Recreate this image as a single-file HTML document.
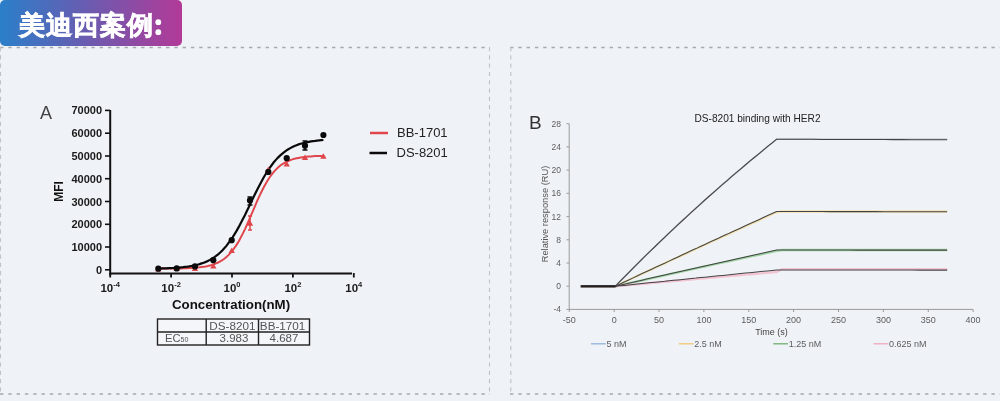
<!DOCTYPE html>
<html><head><meta charset="utf-8"><style>
html,body{margin:0;padding:0;background:#eff3f7;width:1000px;height:401px;overflow:hidden}
svg{display:block;will-change:transform}
</style></head><body>
<svg width="1000" height="401" viewBox="0 0 1000 401">
<path d="M0,47.5 H490 M510,47.5 H1000 M0,394 H490 M510,394 H1000" fill="none" stroke="#a6a9ad" stroke-width="1.3" stroke-dasharray="3.4 4.9"/>
<path d="M0.5,47 V394 M489.5,47 V394 M510.8,47 V394" fill="none" stroke="#c0c3c7" stroke-width="1.1" stroke-dasharray="4.2 4.1"/>
<defs><linearGradient id="g" x1="0" y1="0" x2="1" y2="0"><stop offset="0" stop-color="#2a7fc9"/><stop offset="0.5" stop-color="#6d5aaf"/><stop offset="1" stop-color="#b23a97"/></linearGradient></defs>
<rect x="0" y="0" width="182" height="46" rx="5" fill="url(#g)"/>
<text x="18.5" y="34" font-size="26" font-weight="bold" letter-spacing="1.15" fill="#fff" stroke="#fff" stroke-width="0.7" font-family="Liberation Sans, sans-serif">美迪西案例</text>
<circle cx="158.3" cy="22.2" r="2.9" fill="#fff"/><circle cx="158.3" cy="32.2" r="2.9" fill="#fff"/>
<text x="40" y="119" font-size="18" fill="#444" font-family="Liberation Sans, sans-serif">A</text>
<path d="M110.2,110 V275.5 M110.2,273.6 H352" stroke="#111" stroke-width="2" fill="none"/>
<path d="M105,269.8 H110" stroke="#111" stroke-width="1.6"/>
<text x="102" y="273.8" font-size="11" font-weight="bold" text-anchor="end" fill="#1a1a1a" font-family="Liberation Sans, sans-serif">0</text>
<path d="M105,247.0 H110" stroke="#111" stroke-width="1.6"/>
<text x="102" y="251.0" font-size="11" font-weight="bold" text-anchor="end" fill="#1a1a1a" font-family="Liberation Sans, sans-serif">10000</text>
<path d="M105,224.3 H110" stroke="#111" stroke-width="1.6"/>
<text x="102" y="228.3" font-size="11" font-weight="bold" text-anchor="end" fill="#1a1a1a" font-family="Liberation Sans, sans-serif">20000</text>
<path d="M105,201.5 H110" stroke="#111" stroke-width="1.6"/>
<text x="102" y="205.5" font-size="11" font-weight="bold" text-anchor="end" fill="#1a1a1a" font-family="Liberation Sans, sans-serif">30000</text>
<path d="M105,178.7 H110" stroke="#111" stroke-width="1.6"/>
<text x="102" y="182.7" font-size="11" font-weight="bold" text-anchor="end" fill="#1a1a1a" font-family="Liberation Sans, sans-serif">40000</text>
<path d="M105,156.0 H110" stroke="#111" stroke-width="1.6"/>
<text x="102" y="160.0" font-size="11" font-weight="bold" text-anchor="end" fill="#1a1a1a" font-family="Liberation Sans, sans-serif">50000</text>
<path d="M105,133.2 H110" stroke="#111" stroke-width="1.6"/>
<text x="102" y="137.2" font-size="11" font-weight="bold" text-anchor="end" fill="#1a1a1a" font-family="Liberation Sans, sans-serif">60000</text>
<path d="M105,110.4 H110" stroke="#111" stroke-width="1.6"/>
<text x="102" y="114.4" font-size="11" font-weight="bold" text-anchor="end" fill="#1a1a1a" font-family="Liberation Sans, sans-serif">70000</text>
<path d="M110.2,273 V277.5" stroke="#111" stroke-width="1.8"/>
<text x="110.2" y="291.5" font-size="11.5" font-weight="bold" text-anchor="middle" fill="#1a1a1a" font-family="Liberation Sans, sans-serif">10<tspan dy="-5" font-size="7.5">-4</tspan></text>
<path d="M171.1,273 V277.5" stroke="#111" stroke-width="1.8"/>
<text x="171.1" y="291.5" font-size="11.5" font-weight="bold" text-anchor="middle" fill="#1a1a1a" font-family="Liberation Sans, sans-serif">10<tspan dy="-5" font-size="7.5">-2</tspan></text>
<path d="M232.0,273 V277.5" stroke="#111" stroke-width="1.8"/>
<text x="232.0" y="291.5" font-size="11.5" font-weight="bold" text-anchor="middle" fill="#1a1a1a" font-family="Liberation Sans, sans-serif">10<tspan dy="-5" font-size="7.5">0</tspan></text>
<path d="M292.9,273 V277.5" stroke="#111" stroke-width="1.8"/>
<text x="292.9" y="291.5" font-size="11.5" font-weight="bold" text-anchor="middle" fill="#1a1a1a" font-family="Liberation Sans, sans-serif">10<tspan dy="-5" font-size="7.5">2</tspan></text>
<path d="M353.8,273 V277.5" stroke="#111" stroke-width="1.8"/>
<text x="353.8" y="291.5" font-size="11.5" font-weight="bold" text-anchor="middle" fill="#1a1a1a" font-family="Liberation Sans, sans-serif">10<tspan dy="-5" font-size="7.5">4</tspan></text>
<text x="231" y="308.5" font-size="13.3" font-weight="bold" text-anchor="middle" fill="#111" font-family="Liberation Sans, sans-serif">Concentration(nM)</text>
<text transform="translate(62.5,191.5) rotate(-90)" x="0" y="0" font-size="12" font-weight="bold" text-anchor="middle" fill="#111" font-family="Liberation Sans, sans-serif">MFI</text>
<path d="M158.3,268.6 L160.4,268.6 L162.4,268.6 L164.5,268.6 L166.6,268.6 L168.6,268.6 L170.7,268.5 L172.7,268.5 L174.8,268.5 L176.9,268.5 L178.9,268.4 L181.0,268.4 L183.1,268.3 L185.1,268.2 L187.2,268.2 L189.3,268.1 L191.3,268.0 L193.4,267.8 L195.4,267.7 L197.5,267.5 L199.6,267.3 L201.6,267.0 L203.7,266.7 L205.8,266.4 L207.8,266.0 L209.9,265.5 L211.9,264.9 L214.0,264.2 L216.1,263.4 L218.1,262.5 L220.2,261.4 L222.3,260.2 L224.3,258.7 L226.4,257.0 L228.4,255.1 L230.5,252.9 L232.6,250.5 L234.6,247.7 L236.7,244.6 L238.8,241.2 L240.8,237.4 L242.9,233.4 L245.0,229.1 L247.0,224.6 L249.1,219.9 L251.1,215.1 L253.2,210.3 L255.3,205.4 L257.3,200.7 L259.4,196.1 L261.5,191.8 L263.5,187.7 L265.6,183.9 L267.6,180.4 L269.7,177.2 L271.8,174.4 L273.8,171.8 L275.9,169.6 L278.0,167.6 L280.0,165.8 L282.1,164.3 L284.2,163.0 L286.2,161.9 L288.3,161.0 L290.3,160.1 L292.4,159.4 L294.5,158.8 L296.5,158.3 L298.6,157.9 L300.7,157.5 L302.7,157.2 L304.8,156.9 L306.8,156.7 L308.9,156.5 L311.0,156.4 L313.0,156.2 L315.1,156.1 L317.2,156.0 L319.2,155.9 L321.3,155.9 L323.4,155.8" stroke="#e0474c" stroke-width="2" fill="none"/>
<path d="M158.3,268.5 L160.4,268.5 L162.4,268.4 L164.5,268.4 L166.6,268.3 L168.6,268.2 L170.7,268.1 L172.7,268.0 L174.8,267.9 L176.9,267.7 L178.9,267.6 L181.0,267.4 L183.1,267.2 L185.1,266.9 L187.2,266.7 L189.3,266.4 L191.3,266.0 L193.4,265.6 L195.4,265.2 L197.5,264.7 L199.6,264.1 L201.6,263.4 L203.7,262.7 L205.8,261.9 L207.8,260.9 L209.9,259.9 L211.9,258.7 L214.0,257.4 L216.1,255.9 L218.1,254.3 L220.2,252.5 L222.3,250.5 L224.3,248.3 L226.4,245.9 L228.4,243.2 L230.5,240.4 L232.6,237.3 L234.6,234.1 L236.7,230.6 L238.8,226.9 L240.8,223.0 L242.9,219.0 L245.0,214.9 L247.0,210.7 L249.1,206.4 L251.1,202.1 L253.2,197.8 L255.3,193.5 L257.3,189.4 L259.4,185.4 L261.5,181.5 L263.5,177.8 L265.6,174.3 L267.6,170.9 L269.7,167.8 L271.8,165.0 L273.8,162.3 L275.9,159.9 L278.0,157.6 L280.0,155.6 L282.1,153.8 L284.2,152.1 L286.2,150.6 L288.3,149.3 L290.3,148.1 L292.4,147.0 L294.5,146.0 L296.5,145.2 L298.6,144.4 L300.7,143.8 L302.7,143.2 L304.8,142.7 L306.8,142.2 L308.9,141.8 L311.0,141.4 L313.0,141.1 L315.1,140.9 L317.2,140.6 L319.2,140.4 L321.3,140.2 L323.4,140.0" stroke="#0a0a0a" stroke-width="2.2" fill="none"/>
<path d="M155.1,271.5 L158.3,265.9 L161.5,271.5 Z" fill="#e0474c"/>
<path d="M173.5,271.0 L176.7,265.4 L179.9,271.0 Z" fill="#e0474c"/>
<path d="M191.8,271.0 L195.0,265.4 L198.2,271.0 Z" fill="#e0474c"/>
<path d="M210.1,268.5 L213.3,262.9 L216.5,268.5 Z" fill="#e0474c"/>
<path d="M228.5,253.0 L231.7,247.4 L234.9,253.0 Z" fill="#e0474c"/>
<path d="M246.8,225.7 L250.0,220.1 L253.2,225.7 Z" fill="#e0474c"/>
<path d="M265.1,172.2 L268.3,166.6 L271.5,172.2 Z" fill="#e0474c"/>
<path d="M283.5,166.5 L286.7,160.9 L289.9,166.5 Z" fill="#e0474c"/>
<path d="M301.8,160.1 L305.0,154.5 L308.2,160.1 Z" fill="#e0474c"/>
<path d="M320.2,158.8 L323.4,153.2 L326.6,158.8 Z" fill="#e0474c"/>
<path d="M250,216 V230 M248,216 H252 M248,230 H252" stroke="#e0474c" stroke-width="1.5"/>
<path d="M250,197 V205 M247.5,197 H252.5 M247.5,205 H252.5 M305,141 V150 M302.5,141 H307.5 M302.5,150 H307.5" stroke="#0a0a0a" stroke-width="1.6"/>
<circle cx="158.3" cy="268.7" r="3.1" fill="#0a0a0a"/>
<circle cx="176.7" cy="268.4" r="3.1" fill="#0a0a0a"/>
<circle cx="195.0" cy="266.4" r="3.1" fill="#0a0a0a"/>
<circle cx="213.3" cy="260.2" r="3.1" fill="#0a0a0a"/>
<circle cx="231.7" cy="240.2" r="3.1" fill="#0a0a0a"/>
<circle cx="250.0" cy="200.4" r="3.1" fill="#0a0a0a"/>
<circle cx="268.3" cy="171.9" r="3.1" fill="#0a0a0a"/>
<circle cx="286.7" cy="158.2" r="3.1" fill="#0a0a0a"/>
<circle cx="305.0" cy="145.7" r="3.1" fill="#0a0a0a"/>
<circle cx="323.4" cy="135.0" r="3.1" fill="#0a0a0a"/>
<path d="M370,133 H388" stroke="#e0474c" stroke-width="2.5"/>
<path d="M369.5,153 H387" stroke="#0a0a0a" stroke-width="2.5"/>
<text x="397" y="137" font-size="13" fill="#222" font-family="Liberation Sans, sans-serif">BB-1701</text>
<text x="396.5" y="157" font-size="13" fill="#222" font-family="Liberation Sans, sans-serif">DS-8201</text>
<rect x="157.5" y="319" width="152" height="26" fill="#f4f6f9" stroke="#222" stroke-width="1.4"/>
<path d="M157.5,332 H309.5 M206.2,319 V345 M258.5,319 V345" stroke="#222" stroke-width="1.4"/>
<text x="232.4" y="330" font-size="11.7" fill="#555" text-anchor="middle" font-family="Liberation Sans, sans-serif">DS-8201</text>
<text x="282.6" y="330" font-size="11.7" fill="#555" text-anchor="middle" font-family="Liberation Sans, sans-serif">BB-1701</text>
<text x="234" y="342.2" font-size="11.5" fill="#555" text-anchor="middle" font-family="Liberation Sans, sans-serif">3.983</text>
<text x="284" y="342.2" font-size="11.5" fill="#555" text-anchor="middle" font-family="Liberation Sans, sans-serif">4.687</text>
<text x="165" y="342" font-size="11.2" fill="#555" font-family="Liberation Sans, sans-serif">EC<tspan font-size="7">50</tspan></text>
<text x="529" y="128.5" font-size="19" fill="#333" font-family="Liberation Sans, sans-serif">B</text>
<text x="757.5" y="121.8" font-size="10.15" fill="#222" text-anchor="middle" font-family="Liberation Sans, sans-serif">DS-8201 binding with HER2</text>
<path d="M569.2,123.7 V309.4 H973.1" stroke="#9a9a9a" stroke-width="1" fill="none"/>
<path d="M566.5,309.4 H569.2" stroke="#9a9a9a" stroke-width="1"/>
<text x="561" y="312.4" font-size="8.5" fill="#5c5c5c" text-anchor="end" font-family="Liberation Sans, sans-serif">-4</text>
<path d="M566.5,286.2 H569.2" stroke="#9a9a9a" stroke-width="1"/>
<text x="561" y="289.2" font-size="8.5" fill="#5c5c5c" text-anchor="end" font-family="Liberation Sans, sans-serif">0</text>
<path d="M566.5,263.0 H569.2" stroke="#9a9a9a" stroke-width="1"/>
<text x="561" y="266.0" font-size="8.5" fill="#5c5c5c" text-anchor="end" font-family="Liberation Sans, sans-serif">4</text>
<path d="M566.5,239.8 H569.2" stroke="#9a9a9a" stroke-width="1"/>
<text x="561" y="242.8" font-size="8.5" fill="#5c5c5c" text-anchor="end" font-family="Liberation Sans, sans-serif">8</text>
<path d="M566.5,216.6 H569.2" stroke="#9a9a9a" stroke-width="1"/>
<text x="561" y="219.6" font-size="8.5" fill="#5c5c5c" text-anchor="end" font-family="Liberation Sans, sans-serif">12</text>
<path d="M566.5,193.3 H569.2" stroke="#9a9a9a" stroke-width="1"/>
<text x="561" y="196.3" font-size="8.5" fill="#5c5c5c" text-anchor="end" font-family="Liberation Sans, sans-serif">16</text>
<path d="M566.5,170.1 H569.2" stroke="#9a9a9a" stroke-width="1"/>
<text x="561" y="173.1" font-size="8.5" fill="#5c5c5c" text-anchor="end" font-family="Liberation Sans, sans-serif">20</text>
<path d="M566.5,146.9 H569.2" stroke="#9a9a9a" stroke-width="1"/>
<text x="561" y="149.9" font-size="8.5" fill="#5c5c5c" text-anchor="end" font-family="Liberation Sans, sans-serif">24</text>
<path d="M566.5,123.7 H569.2" stroke="#9a9a9a" stroke-width="1"/>
<text x="561" y="126.7" font-size="8.5" fill="#5c5c5c" text-anchor="end" font-family="Liberation Sans, sans-serif">28</text>
<path d="M569.3,309.4 V312" stroke="#9a9a9a" stroke-width="1"/>
<text x="569.3" y="323" font-size="9" fill="#5c5c5c" text-anchor="middle" font-family="Liberation Sans, sans-serif">-50</text>
<path d="M614.2,309.4 V312" stroke="#9a9a9a" stroke-width="1"/>
<text x="614.2" y="323" font-size="9" fill="#5c5c5c" text-anchor="middle" font-family="Liberation Sans, sans-serif">0</text>
<path d="M659.0,309.4 V312" stroke="#9a9a9a" stroke-width="1"/>
<text x="659.0" y="323" font-size="9" fill="#5c5c5c" text-anchor="middle" font-family="Liberation Sans, sans-serif">50</text>
<path d="M703.9,309.4 V312" stroke="#9a9a9a" stroke-width="1"/>
<text x="703.9" y="323" font-size="9" fill="#5c5c5c" text-anchor="middle" font-family="Liberation Sans, sans-serif">100</text>
<path d="M748.8,309.4 V312" stroke="#9a9a9a" stroke-width="1"/>
<text x="748.8" y="323" font-size="9" fill="#5c5c5c" text-anchor="middle" font-family="Liberation Sans, sans-serif">150</text>
<path d="M793.6,309.4 V312" stroke="#9a9a9a" stroke-width="1"/>
<text x="793.6" y="323" font-size="9" fill="#5c5c5c" text-anchor="middle" font-family="Liberation Sans, sans-serif">200</text>
<path d="M838.5,309.4 V312" stroke="#9a9a9a" stroke-width="1"/>
<text x="838.5" y="323" font-size="9" fill="#5c5c5c" text-anchor="middle" font-family="Liberation Sans, sans-serif">250</text>
<path d="M883.4,309.4 V312" stroke="#9a9a9a" stroke-width="1"/>
<text x="883.4" y="323" font-size="9" fill="#5c5c5c" text-anchor="middle" font-family="Liberation Sans, sans-serif">300</text>
<path d="M928.3,309.4 V312" stroke="#9a9a9a" stroke-width="1"/>
<text x="928.3" y="323" font-size="9" fill="#5c5c5c" text-anchor="middle" font-family="Liberation Sans, sans-serif">350</text>
<path d="M973.1,309.4 V312" stroke="#9a9a9a" stroke-width="1"/>
<text x="973.1" y="323" font-size="9" fill="#5c5c5c" text-anchor="middle" font-family="Liberation Sans, sans-serif">400</text>
<text x="771.5" y="334.8" font-size="9" fill="#444" text-anchor="middle" font-family="Liberation Sans, sans-serif">Time (s)</text>
<text transform="translate(547.5,214) rotate(-90)" font-size="9.3" fill="#555" text-anchor="middle" font-family="Liberation Sans, sans-serif">Relative response (RU)</text>
<path d="M581.1,286.3 L615.2,286.3 L619.7,281.7 L624.2,277.1 L628.7,272.6 L633.1,268.1 L637.6,263.6 L642.1,259.1 L646.6,254.7 L651.1,250.3 L655.6,246.0 L660.1,241.7 L664.6,237.4 L669.0,233.1 L673.5,228.9 L678.0,224.7 L682.5,220.5 L687.0,216.3 L691.5,212.2 L696.0,208.1 L700.4,204.1 L704.9,200.0 L709.4,196.0 L713.9,192.1 L718.4,188.1 L722.9,184.2 L727.4,180.3 L731.8,176.4 L736.3,172.6 L740.8,168.8 L745.3,165.0 L749.8,161.2 L754.3,157.5 L758.8,153.8 L763.3,150.1 L767.7,146.4 L772.2,142.8 L776.7,139.2 L782.1,139.2 L790.8,139.2 L799.5,139.2 L808.2,139.2 L816.9,139.2 L825.5,139.2 L834.2,139.2 L842.9,139.2 L851.6,139.2 L860.3,139.2 L869.0,139.2 L877.7,139.2 L886.4,139.2 L895.1,139.2 L903.8,139.2 L912.4,139.2 L921.1,139.2 L929.8,139.2 L938.5,139.2 L947.2,139.2" stroke="#b5bcc4" stroke-width="1.6" fill="none" stroke-linejoin="round"/>
<path d="M581.1,286.3 L615.2,286.3 L619.7,284.2 L624.2,282.1 L628.7,280.0 L633.1,277.9 L637.6,275.9 L642.1,273.8 L646.6,271.7 L651.1,269.6 L655.6,267.5 L660.1,265.5 L664.6,263.4 L669.0,261.3 L673.5,259.3 L678.0,257.2 L682.5,255.1 L687.0,253.1 L691.5,251.0 L696.0,249.0 L700.4,246.9 L704.9,244.8 L709.4,242.8 L713.9,240.7 L718.4,238.7 L722.9,236.7 L727.4,234.6 L731.8,232.6 L736.3,230.5 L740.8,228.5 L745.3,226.5 L749.8,224.4 L754.3,222.4 L758.8,220.4 L763.3,218.3 L767.7,216.3 L772.2,214.3 L776.7,212.3 L782.1,211.5 L790.8,211.5 L799.5,211.5 L808.2,211.5 L816.9,211.5 L825.5,211.5 L834.2,211.5 L842.9,211.5 L851.6,211.5 L860.3,211.5 L869.0,211.5 L877.7,211.5 L886.4,211.5 L895.1,211.5 L903.8,211.5 L912.4,211.5 L921.1,211.5 L929.8,211.5 L938.5,211.5 L947.2,211.5" stroke="#f4e2b0" stroke-width="2.3" fill="none" stroke-linejoin="round"/>
<path d="M581.1,286.3 L615.2,286.3 L619.7,285.3 L624.2,284.3 L628.7,283.3 L633.1,282.3 L637.6,281.3 L642.1,280.3 L646.6,279.3 L651.1,278.3 L655.6,277.3 L660.1,276.3 L664.6,275.3 L669.0,274.4 L673.5,273.4 L678.0,272.4 L682.5,271.4 L687.0,270.4 L691.5,269.4 L696.0,268.4 L700.4,267.4 L704.9,266.5 L709.4,265.5 L713.9,264.5 L718.4,263.5 L722.9,262.5 L727.4,261.6 L731.8,260.6 L736.3,259.6 L740.8,258.6 L745.3,257.7 L749.8,256.7 L754.3,255.7 L758.8,254.8 L763.3,253.8 L767.7,252.8 L772.2,251.9 L776.7,250.9 L782.1,250.0 L790.8,250.0 L799.5,250.0 L808.2,250.0 L816.9,250.0 L825.5,250.0 L834.2,250.0 L842.9,250.0 L851.6,250.0 L860.3,250.0 L869.0,250.0 L877.7,250.0 L886.4,250.0 L895.1,250.0 L903.8,250.0 L912.4,250.0 L921.1,250.0 L929.8,250.0 L938.5,250.0 L947.2,250.0" stroke="#9fd4a2" stroke-width="2.3" fill="none" stroke-linejoin="round"/>
<path d="M581.1,286.3 L615.2,286.3 L619.7,285.9 L624.2,285.5 L628.7,285.1 L633.1,284.7 L637.6,284.3 L642.1,283.9 L646.6,283.5 L651.1,283.1 L655.6,282.7 L660.1,282.3 L664.6,281.9 L669.0,281.5 L673.5,281.1 L678.0,280.7 L682.5,280.3 L687.0,279.9 L691.5,279.5 L696.0,279.1 L700.4,278.7 L704.9,278.3 L709.4,277.9 L713.9,277.5 L718.4,277.1 L722.9,276.7 L727.4,276.3 L731.8,275.9 L736.3,275.5 L740.8,275.1 L745.3,274.7 L749.8,274.3 L754.3,274.0 L758.8,273.6 L763.3,273.2 L767.7,272.8 L772.2,272.4 L776.7,272.0 L782.1,269.1 L790.8,269.1 L799.5,269.1 L808.2,269.1 L816.9,269.1 L825.5,269.1 L834.2,269.1 L842.9,269.1 L851.6,269.1 L860.3,269.1 L869.0,269.1 L877.7,269.1 L886.4,269.1 L895.1,269.1 L903.8,269.1 L912.4,269.1 L921.1,269.1 L929.8,269.1 L938.5,269.1 L947.2,269.1" stroke="#f4c4d2" stroke-width="2.3" fill="none" stroke-linejoin="round"/>
<path d="M581.1,286.3 L615.2,286.3 L619.7,281.7 L624.2,277.1 L628.7,272.6 L633.1,268.1 L637.6,263.6 L642.1,259.1 L646.6,254.7 L651.1,250.3 L655.6,246.0 L660.1,241.7 L664.6,237.4 L669.0,233.1 L673.5,228.9 L678.0,224.7 L682.5,220.5 L687.0,216.3 L691.5,212.2 L696.0,208.1 L700.4,204.1 L704.9,200.0 L709.4,196.0 L713.9,192.1 L718.4,188.1 L722.9,184.2 L727.4,180.3 L731.8,176.4 L736.3,172.6 L740.8,168.8 L745.3,165.0 L749.8,161.2 L754.3,157.5 L758.8,153.8 L763.3,150.1 L767.7,146.4 L772.2,142.8 L776.7,139.2 L785.7,139.2 L794.7,139.3 L803.6,139.3 L812.6,139.3 L821.6,139.4 L830.6,139.4 L839.5,139.4 L848.5,139.4 L857.5,139.5 L866.4,139.5 L875.4,139.5 L884.4,139.6 L893.4,139.6 L902.3,139.6 L911.3,139.7 L920.3,139.7 L929.3,139.7 L938.2,139.7 L947.2,139.8" stroke="#444446" stroke-width="1.05" fill="none" stroke-linejoin="round"/>
<path d="M581.1,286.3 L615.2,286.3 L619.7,284.2 L624.2,282.1 L628.7,280.0 L633.1,277.9 L637.6,275.7 L642.1,273.6 L646.6,271.5 L651.1,269.4 L655.6,267.3 L660.1,265.2 L664.6,263.2 L669.0,261.1 L673.5,259.0 L678.0,256.9 L682.5,254.8 L687.0,252.7 L691.5,250.6 L696.0,248.6 L700.4,246.5 L704.9,244.4 L709.4,242.3 L713.9,240.3 L718.4,238.2 L722.9,236.1 L727.4,234.1 L731.8,232.0 L736.3,229.9 L740.8,227.9 L745.3,225.8 L749.8,223.8 L754.3,221.7 L758.8,219.7 L763.3,217.6 L767.7,215.6 L772.2,213.5 L776.7,211.5 L785.7,211.5 L794.7,211.5 L803.6,211.5 L812.6,211.5 L821.6,211.6 L830.6,211.6 L839.5,211.6 L848.5,211.6 L857.5,211.6 L866.4,211.6 L875.4,211.6 L884.4,211.7 L893.4,211.7 L902.3,211.7 L911.3,211.7 L920.3,211.7 L929.3,211.7 L938.2,211.7 L947.2,211.8" stroke="#444446" stroke-width="1.05" fill="none" stroke-linejoin="round"/>
<path d="M581.1,286.3 L615.2,286.3 L619.7,285.3 L624.2,284.2 L628.7,283.2 L633.1,282.2 L637.6,281.2 L642.1,280.2 L646.6,279.1 L651.1,278.1 L655.6,277.1 L660.1,276.1 L664.6,275.1 L669.0,274.1 L673.5,273.0 L678.0,272.0 L682.5,271.0 L687.0,270.0 L691.5,269.0 L696.0,268.0 L700.4,267.0 L704.9,266.0 L709.4,265.0 L713.9,264.0 L718.4,263.0 L722.9,261.9 L727.4,260.9 L731.8,259.9 L736.3,258.9 L740.8,257.9 L745.3,256.9 L749.8,256.0 L754.3,255.0 L758.8,254.0 L763.3,253.0 L767.7,252.0 L772.2,251.0 L776.7,250.0 L785.7,250.0 L794.7,250.0 L803.6,250.0 L812.6,250.0 L821.6,250.0 L830.6,250.0 L839.5,250.0 L848.5,250.1 L857.5,250.1 L866.4,250.1 L875.4,250.1 L884.4,250.1 L893.4,250.1 L902.3,250.1 L911.3,250.1 L920.3,250.1 L929.3,250.1 L938.2,250.1 L947.2,250.1" stroke="#444446" stroke-width="1.05" fill="none" stroke-linejoin="round"/>
<path d="M581.1,286.3 L615.2,286.3 L619.7,285.8 L624.2,285.4 L628.7,284.9 L633.1,284.5 L637.6,284.0 L642.1,283.5 L646.6,283.1 L651.1,282.6 L655.6,282.2 L660.1,281.7 L664.6,281.3 L669.0,280.8 L673.5,280.3 L678.0,279.9 L682.5,279.4 L687.0,279.0 L691.5,278.5 L696.0,278.1 L700.4,277.6 L704.9,277.2 L709.4,276.7 L713.9,276.3 L718.4,275.8 L722.9,275.4 L727.4,274.9 L731.8,274.5 L736.3,274.0 L740.8,273.6 L745.3,273.1 L749.8,272.7 L754.3,272.2 L758.8,271.8 L763.3,271.3 L767.7,270.9 L772.2,270.4 L776.7,270.0 L785.7,270.0 L794.7,270.0 L803.6,270.0 L812.6,270.0 L821.6,270.0 L830.6,270.0 L839.5,270.0 L848.5,270.0 L857.5,270.0 L866.4,270.0 L875.4,270.0 L884.4,270.0 L893.4,270.0 L902.3,270.0 L911.3,270.1 L920.3,270.1 L929.3,270.1 L938.2,270.1 L947.2,270.1" stroke="#444446" stroke-width="1.05" fill="none" stroke-linejoin="round"/>
<path d="M580.6,286.3 H615.5" stroke="#222" stroke-width="2.3"/>
<path d="M591,343.8 H605.8" stroke="#8fb3d9" stroke-width="1.3"/>
<text x="606.5" y="347" font-size="9" fill="#5c5c5c" font-family="Liberation Sans, sans-serif">5 nM</text>
<path d="M678.8,343.8 H693.5999999999999" stroke="#f0c870" stroke-width="1.3"/>
<text x="694.3" y="347" font-size="9" fill="#5c5c5c" font-family="Liberation Sans, sans-serif">2.5 nM</text>
<path d="M773.2,343.8 H788.0" stroke="#6fb070" stroke-width="1.3"/>
<text x="788.7" y="347" font-size="9" fill="#5c5c5c" font-family="Liberation Sans, sans-serif">1.25 nM</text>
<path d="M873.6,343.8 H888.4" stroke="#f0a8bb" stroke-width="1.3"/>
<text x="889.1" y="347" font-size="9" fill="#5c5c5c" font-family="Liberation Sans, sans-serif">0.625 nM</text>
</svg>
</body></html>
